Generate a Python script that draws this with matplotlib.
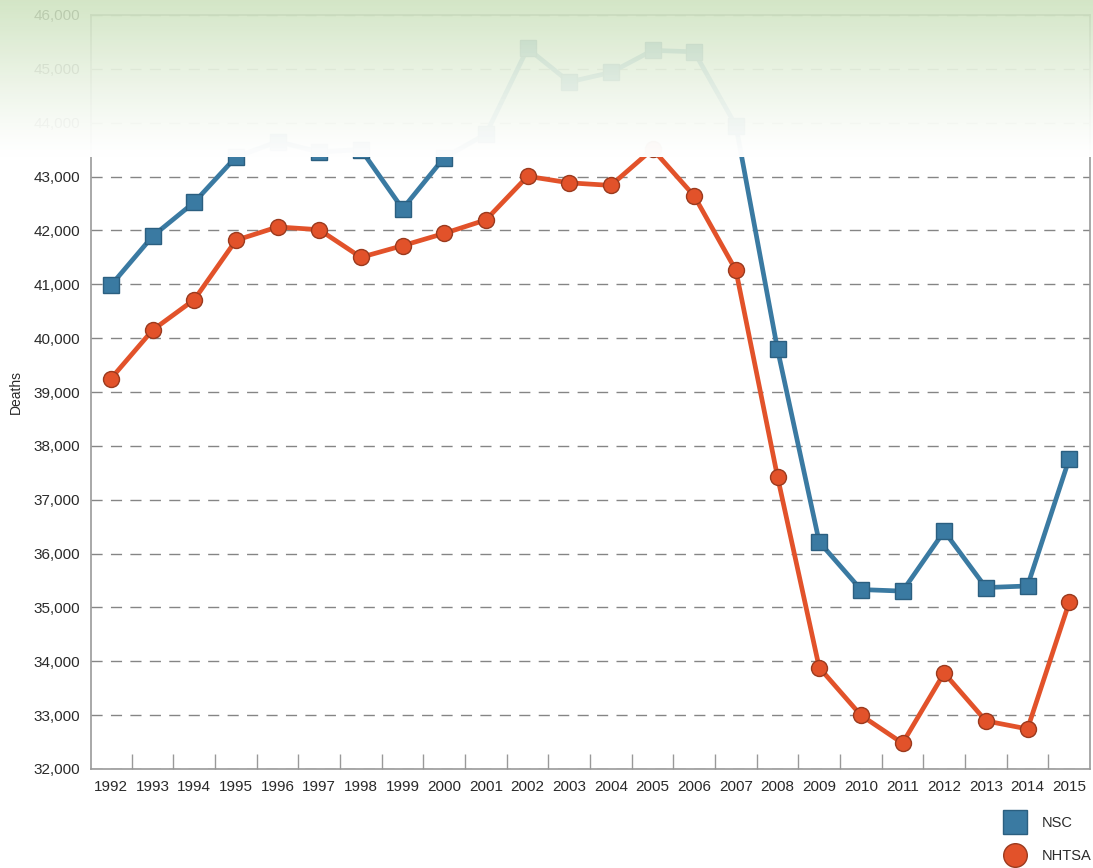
import numpy as np
import matplotlib
matplotlib.use("Agg")
import matplotlib.pyplot as plt
from matplotlib.ticker import FuncFormatter, FixedLocator
from matplotlib.lines import Line2D

years = [1992, 1993, 1994, 1995, 1996, 1997, 1998, 1999, 2000, 2001, 2002, 2003,
         2004, 2005, 2006, 2007, 2008, 2009, 2010, 2011, 2012, 2013, 2014, 2015]
nsc = [40982, 41893, 42524, 43363, 43649, 43458, 43501, 42401, 43354, 43788, 45380, 44757,
       44933, 45343, 45316, 43945, 39790, 36216, 35332, 35303, 36415, 35369, 35398, 37757]
nhtsa = [39250, 40150, 40716, 41817, 42065, 42013, 41501, 41717, 41945, 42196, 43005, 42884,
         42836, 43510, 42640, 41259, 37423, 33883, 32999, 32479, 33782, 32893, 32744, 35092]

plt.rcParams['font.family'] = ['Liberation Sans', 'DejaVu Sans']

blue = '#3a7aa2'
blue_dark = '#2b5f80'
red = '#e2522a'
red_dark = '#9a3a1e'
txt = '#2a2a2a'

W, H = 1093, 868
fig = plt.figure(figsize=(W / 100, H / 100), dpi=100)
ax = fig.add_axes([91 / W, 1 - 769 / H, (1090 - 91) / W, (769 - 15) / H])

x = np.arange(len(years))
ax.plot(x, nsc, color=blue, lw=3.4, marker='s', ms=11, mfc=blue, mec=blue_dark, mew=1, zorder=3)
ax.plot(x, nhtsa, color=red, lw=3.4, marker='o', ms=11.5, mfc=red, mec=red_dark, mew=1, zorder=4)

ax.set_xlim(-0.48, 23.5)
ax.set_ylim(32000, 46000)
ax.set_yticks(np.arange(32000, 46001, 1000))
ax.yaxis.set_major_formatter(FuncFormatter(lambda v, p: f'{int(v):,}'))
ax.tick_params(axis='y', length=0, labelsize=11, labelcolor=txt, pad=8)

ax.set_xticks(x)
ax.set_xticklabels([str(y) for y in years])
ax.tick_params(axis='x', which='major', length=0, labelsize=11, labelcolor=txt, pad=8)
ax.xaxis.set_minor_locator(FixedLocator(x[:-1] + 0.5))
ax.tick_params(axis='x', which='minor', direction='in', length=11, color='#999999', width=1)

ax.grid(axis='y', color='#858585', lw=1, ls=(0, (8, 6)))
ax.set_axisbelow(True)
for s in ax.spines.values():
    s.set_color('#999999')
    s.set_linewidth(1.2)

ax.set_ylabel('Deaths', fontsize=10, color=txt)
ax.yaxis.set_label_coords(-68 / (1090 - 91), 0.5)

handles = [Line2D([], [], ls='none', marker='s', ms=17, mfc=blue, mec=blue_dark),
           Line2D([], [], ls='none', marker='o', ms=17, mfc=red, mec=red_dark)]
fig.legend(handles, ['NSC', 'NHTSA'], loc='upper left', bbox_to_anchor=(991 / W, 1 - 803 / H),
           frameon=False, fontsize=10.5, handlelength=1.5, labelspacing=1.3, handletextpad=1.1,
           labelcolor=txt)

# green fade banner over the top of the chart
ov = fig.add_axes([0, 1 - 157 / H, 1, 157 / H])
t = np.linspace(0, 1, 200)[:, None]
top = np.array([0.80, 0.885, 0.74])
bot = np.array([1.0, 1.0, 1.0])
w = (1 - t) ** 1.3
rgb = top[None, :] * w + bot[None, :] * (1 - w)
alpha = 0.84 + 0.15 * t ** 0.7
img = np.concatenate([rgb, alpha], axis=1)[:, None, :]
img = np.repeat(img, 2, axis=1)
ov.imshow(img, aspect='auto', extent=[0, 1, 0, 1], interpolation='bilinear')
ov.set_axis_off()

fig.savefig('out.png', dpi=100)
